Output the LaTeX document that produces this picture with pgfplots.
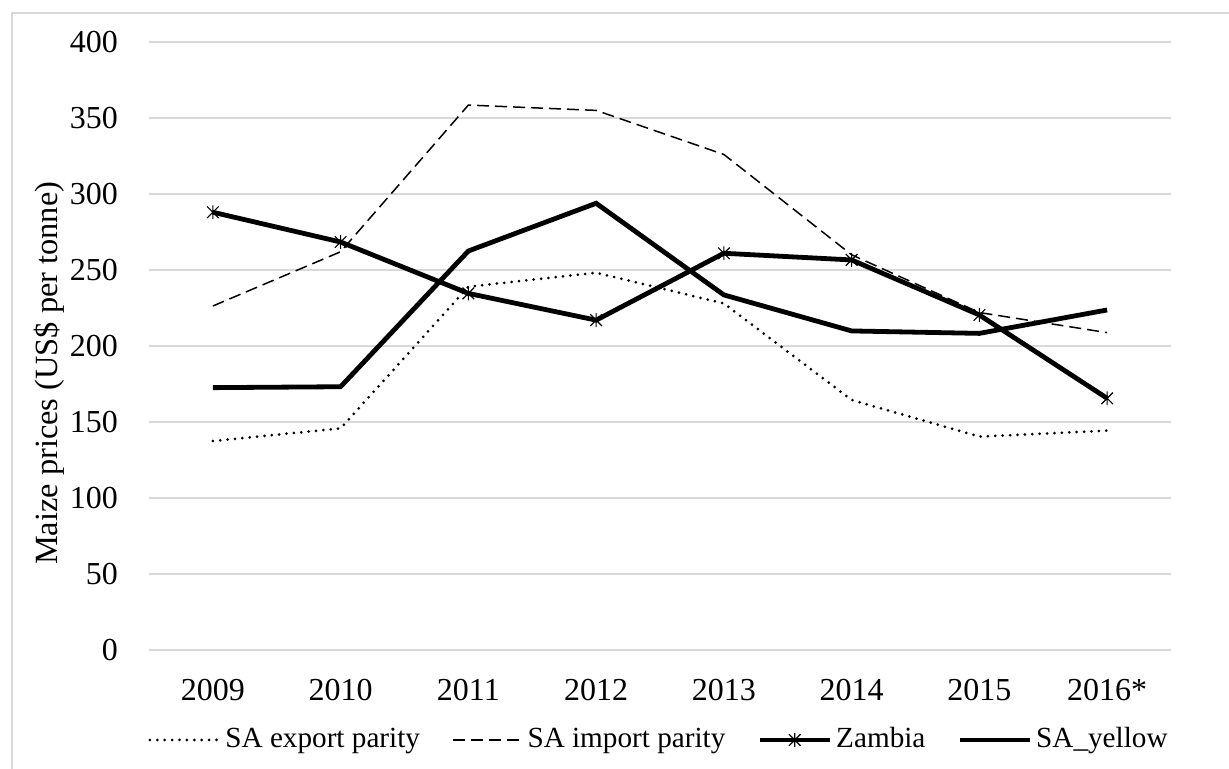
\documentclass[border=0pt]{standalone}
\usepackage{fontspec}
\setmainfont{Liberation Serif}
\usepackage{pgfplots}
\pgfplotsset{compat=1.18}
\definecolor{gridgray}{RGB}{217,217,217}
\definecolor{framegray}{RGB}{217,217,217}
\pgfdeclareplotmark{xlstar}{%
  \pgfpathmoveto{\pgfqpoint{-\pgfplotmarksize}{-\pgfplotmarksize}}%
  \pgfpathlineto{\pgfqpoint{\pgfplotmarksize}{\pgfplotmarksize}}%
  \pgfpathmoveto{\pgfqpoint{-\pgfplotmarksize}{\pgfplotmarksize}}%
  \pgfpathlineto{\pgfqpoint{\pgfplotmarksize}{-\pgfplotmarksize}}%
  \pgfpathmoveto{\pgfqpoint{0pt}{-1.2\pgfplotmarksize}}%
  \pgfpathlineto{\pgfqpoint{0pt}{1.2\pgfplotmarksize}}%
  \pgfusepathqstroke}
\begin{document}
\fontsize{16pt}{19pt}\selectfont
\begin{tikzpicture}
\useasboundingbox (-74.5pt,-59.5pt) rectangle (540pt,325pt);
\draw[framegray, line width=0.8pt] (-68.5pt,-70pt) -- (-68.5pt,318.5pt) -- (560pt,318.5pt);
\begin{axis}[
  at={(0pt,0pt)}, anchor=south west,
  scale only axis,
  width=511pt, height=304pt,
  xmin=-0.5, xmax=7.5,
  ymin=0, ymax=400,
  ytick={0,50,...,400},
  xtick={0,...,7},
  xticklabels={2009,2010,2011,2012,2013,2014,2015,2016*},
  /pgf/number format/assume math mode=true,
  ticklabel style={font=\fontsize{16pt}{19pt}\selectfont},
  label style={font=\fontsize{16.2pt}{19pt}\selectfont},
  yticklabel style={anchor=east, xshift=-10pt},
  xticklabel style={yshift=-9pt},
  major tick length=0pt,
  axis line style={draw=none},
  ymajorgrids,
  grid style={gridgray, line width=0.7pt},
  ylabel={Maize prices (US\$ per tonne)},
  ylabel style={at={(axis description cs:-0.098,0.455)}, anchor=center},
  legend columns=4,
  legend style={at={(0.5,-0.148)}, anchor=center, draw=none, fill=none,
    font=\fontsize{14.6pt}{17pt}\selectfont,
    nodes={inner xsep=2pt},
    /tikz/every even column/.append style={column sep=14pt}},
  legend image code/.code={\draw[mark repeat=2,mark phase=2,#1] plot coordinates {(0pt,0pt) (17.5pt,0pt) (35pt,0pt)};},
]
\addplot[black, line width=1.5pt, line cap=round, dash pattern=on 0pt off 3.7pt, mark=none]
 coordinates {(0,137.5) (1,145.8) (2,239) (3,248.2) (4,228) (5,164.5) (6,140.4) (7,144.3)};
\addlegendentry{SA export parity}
\addplot[black, line width=0.75pt, dash pattern=on 6pt off 3pt, mark=none]
 coordinates {(0,226.3) (1,262) (2,358.5) (3,355) (4,326) (5,260) (6,222) (7,208.8)};
\addlegendentry{SA import parity}
\addplot[black, line width=2.4pt, mark=xlstar, mark size=2.9pt, mark options={line width=0.6pt, solid}]
 coordinates {(0,288) (1,268.4) (2,234.6) (3,217) (4,261) (5,256.6) (6,220.4) (7,165.6)};
\addlegendentry{Zambia}
\addplot[black, line width=2.4pt, mark=none]
 coordinates {(0,172.6) (1,173.2) (2,262.5) (3,293.9) (4,233.6) (5,209.9) (6,208.3) (7,223.7)};
\addlegendentry{SA\_yellow}
\end{axis}
\end{tikzpicture}
\end{document}
